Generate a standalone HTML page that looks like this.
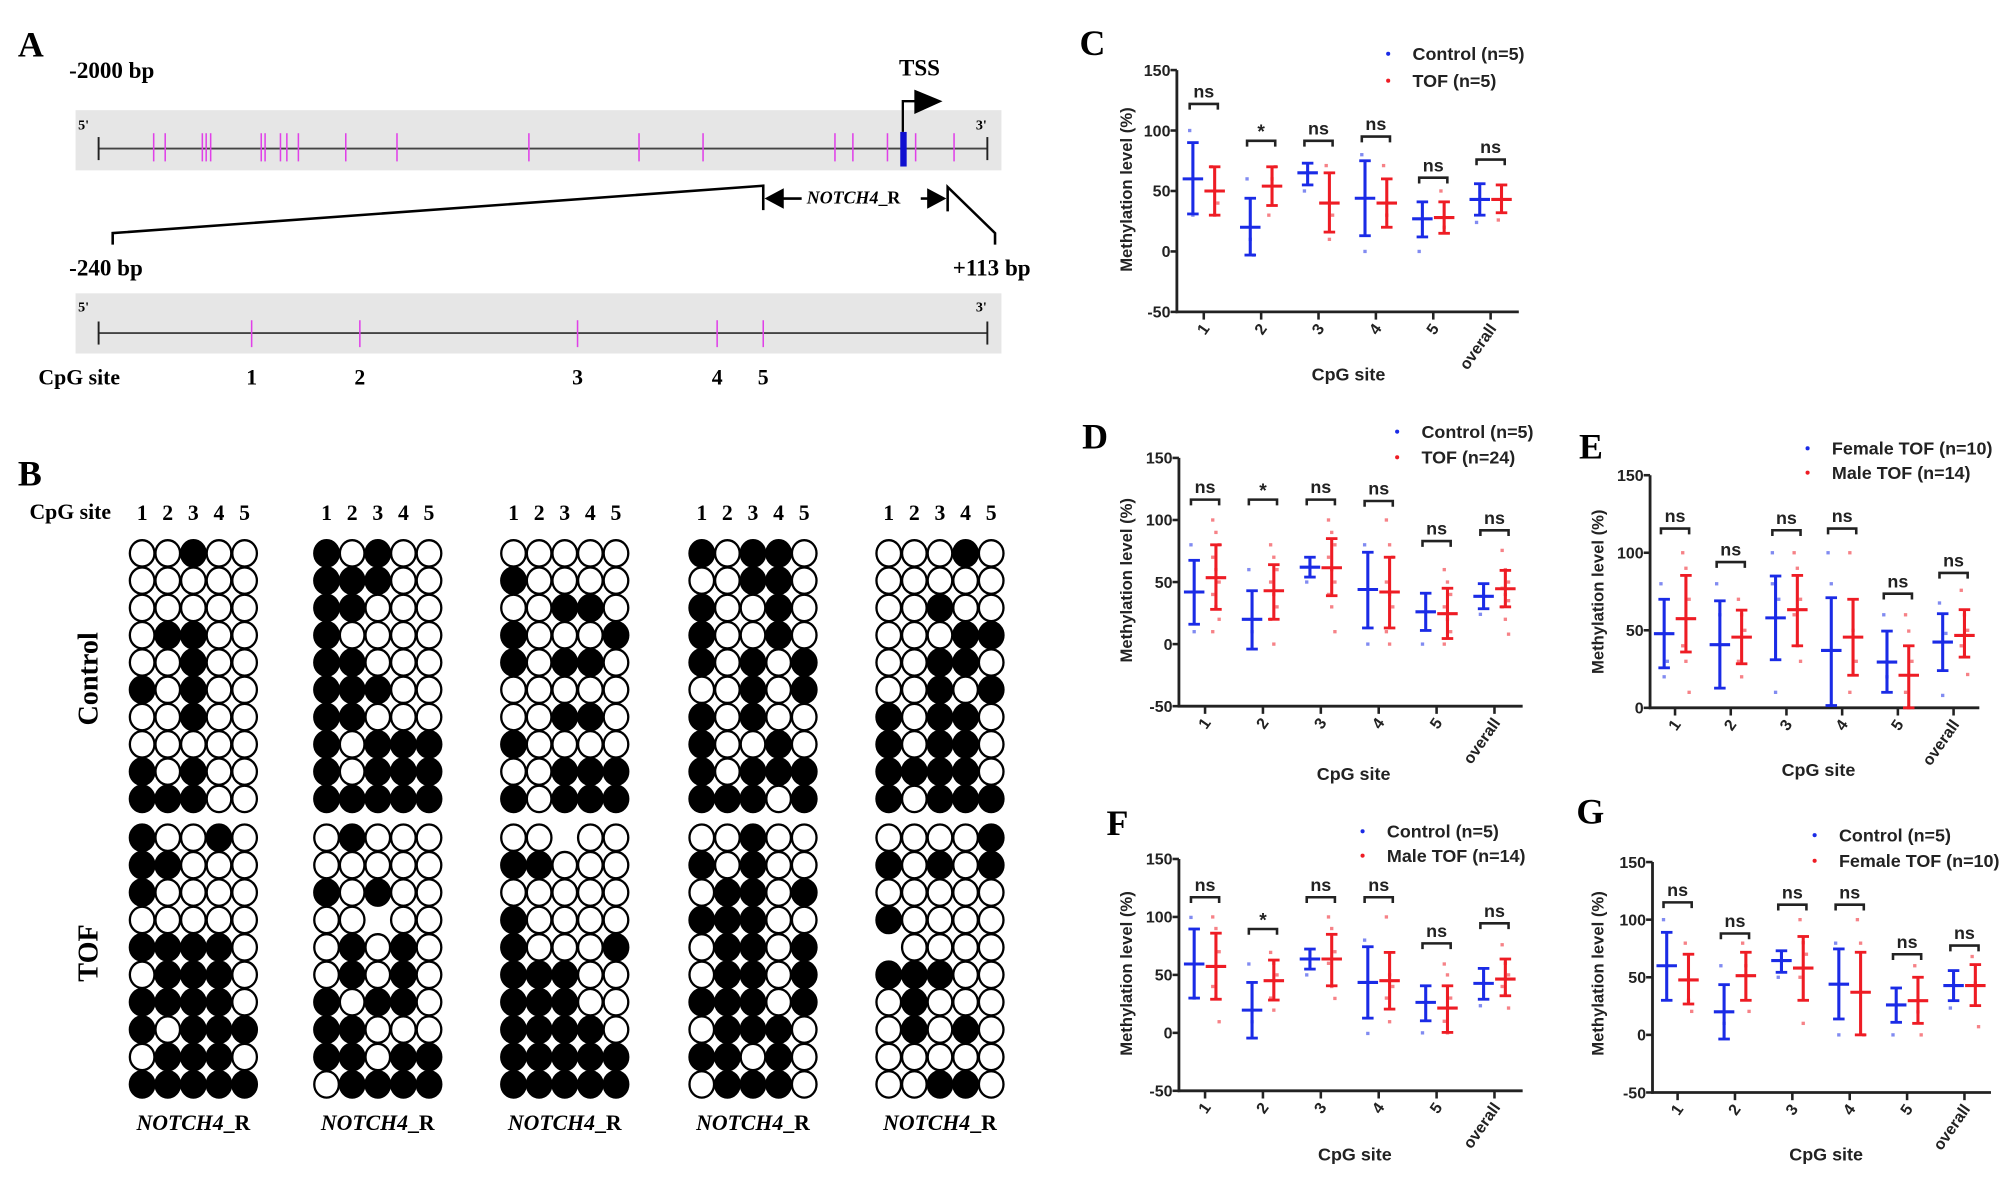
<!DOCTYPE html>
<html><head><meta charset="utf-8"><style>
html,body{margin:0;padding:0;background:#fff;}
svg{display:block;}
.serif{font-family:"Liberation Serif",serif;font-weight:bold;}
.sans{font-family:"Liberation Sans",sans-serif;font-weight:bold;}
</style></head><body>
<svg id="fig" width="2008" height="1181" viewBox="0 0 1568 922" preserveAspectRatio="none" xmlns="http://www.w3.org/2000/svg">
<rect width="1568" height="922" fill="#fff"/>
<!-- Panel A -->
<g id="panelA">
<text class="serif" x="14" y="44" font-size="28">A</text>
<text class="serif" x="54" y="61" font-size="18">-2000 bp</text>
<text class="serif" x="702" y="59" font-size="18">TSS</text>
<rect x="59" y="86" width="723" height="47" fill="#e6e6e6"/>
<text class="serif" x="61" y="101" font-size="11">5'</text>
<text class="serif" x="762" y="101" font-size="11">3'</text>
<line x1="77" y1="116" x2="771" y2="116" stroke="#444" stroke-width="1.5"/>
<line x1="77" y1="107" x2="77" y2="125" stroke="#222" stroke-width="1.5"/>
<line x1="771" y1="107" x2="771" y2="125" stroke="#222" stroke-width="1.5"/>
<g id="cpgTicksTop"></g>
<rect x="703" y="103" width="5" height="27" fill="#1010d0"/>
<polyline points="705,103 705,79 716,79" fill="none" stroke="#000" stroke-width="1.8"/>
<polygon points="714,70 736,79 714,89" fill="#000"/>
<polyline points="88,191 88,182 596,145 596,164" fill="none" stroke="#000" stroke-width="2"/>
<polyline points="740,165 740,146 777,182 777,191" fill="none" stroke="#000" stroke-width="2"/>
<polygon points="597,155 612,147 612,163" fill="#000"/>
<line x1="610" y1="155" x2="626" y2="155" stroke="#000" stroke-width="2"/>
<text class="serif" x="630" y="159" font-size="14" font-style="italic">NOTCH4<tspan font-style="normal">_R</tspan></text>
<line x1="719" y1="155" x2="728" y2="155" stroke="#000" stroke-width="2"/>
<polygon points="739,155 724,147 724,163" fill="#000"/>
<text class="serif" x="54" y="215" font-size="18">-240 bp</text>
<text class="serif" x="744" y="215" font-size="18">+113 bp</text>
<rect x="59" y="229" width="723" height="47" fill="#e6e6e6"/>
<text class="serif" x="61" y="243" font-size="11">5'</text>
<text class="serif" x="762" y="243" font-size="11">3'</text>
<line x1="77" y1="260" x2="771" y2="260" stroke="#444" stroke-width="1.5"/>
<line x1="77" y1="251" x2="77" y2="269" stroke="#222" stroke-width="1.5"/>
<line x1="771" y1="251" x2="771" y2="269" stroke="#222" stroke-width="1.5"/>
<g id="cpgTicksBottom"></g>
<text class="serif" x="30" y="300" font-size="17">CpG site</text>
</g>
<!-- Panel B -->
<g id="panelB">
<text class="serif" x="14" y="379" font-size="28">B</text>
<text class="serif" x="23" y="405" font-size="17">CpG site</text>
<text class="serif" font-size="22" transform="translate(76,530) rotate(-90)" text-anchor="middle">Control</text>
<text class="serif" font-size="22" transform="translate(76,744) rotate(-90)" text-anchor="middle">TOF</text>
<g id="grids"></g>
</g>
<g id="charts"></g>
</svg>
<script>
const NS='http://www.w3.org/2000/svg';
function mk(tag,attrs,parent){const e=document.createElementNS(NS,tag);for(const k in attrs)e.setAttribute(k,attrs[k]);parent.appendChild(e);return e;}
const fig=document.getElementById('fig');

// Panel A CpG positions
const topCpgX=[120,129,158,161,164.5,204,207,219,224,233,270,310,413,499,549,652,666,693,715,745];
const ampliconCpgX=[196.5,281,451,560,596];
const ampliconCpgLabels=['1','2','3','4','5'];
const tt=document.getElementById('cpgTicksTop');
topCpgX.forEach(x=>{const l=mk('line',{x1:x,y1:104,x2:x,y2:126,stroke:'#e040e8','stroke-width':1.2},tt);

});
const tb=document.getElementById('cpgTicksBottom');
ampliconCpgX.forEach((x,i)=>{const l=mk('line',{x1:x,y1:250,x2:x,y2:271,stroke:'#e040e8','stroke-width':1.2},tb);


const t=mk('text',{x:x,y:300,'font-size':17,'text-anchor':'middle','class':'serif'},tb);t.textContent=ampliconCpgLabels[i];

});

// Panel B patterns (1 = methylated, 0 = unmethylated, - = missing)
const ctrlPatterns=[
['00100','00000','00000','01100','00100','10100','00100','00000','10100','11100'],
['10100','11100','11000','10000','11000','11100','11000','10111','10111','11111'],
['00000','10000','00110','10001','10110','00000','00110','10000','00111','10111'],
['10110','00110','10010','10010','10101','00101','10100','10010','10111','11101'],
['00010','00000','00100','00011','00110','00101','10110','10110','11110','10111']];
const tofPatterns=[
['10010','11000','10000','00000','11110','01110','11110','10111','01110','11111'],
['01000','00000','10100','00-00','01010','01010','10110','11000','11011','01111'],
['00-00','11000','00000','10000','10001','11100','11100','11110','11111','11111'],
['00100','10100','01101','11100','01101','01101','11101','01110','11010','01110'],
['00001','10101','00000','10000','-0000','11100','01000','01010','00000','00110']];
const groupX=[111,255,401,548,694];
const grids=document.getElementById('grids');
groupX.forEach((gx,g)=>{
 for(let c=0;c<5;c++){const t=mk('text',{x:gx+c*20,y:406,'font-size':17,'text-anchor':'middle','class':'serif'},grids);t.textContent=String(c+1);
 
 }
 const lab=mk('text',{x:gx+40,y:882,'font-size':17,'text-anchor':'middle','class':'serif','font-style':'italic'},grids);
 lab.innerHTML='NOTCH4<tspan font-style="normal">_R</tspan>';
 
 
 [[ctrlPatterns,432,21.3],[tofPatterns,654,21.4]].forEach(([pats,y0,dy])=>{
  pats[g].forEach((row,r)=>{for(let c=0;c<5;c++){const v=row[c];if(v==='-')continue;
   const e=mk('ellipse',{cx:gx+c*20,cy:y0+r*dy,rx:9.6,ry:10.3,fill:v==='1'?'#000':'#fff',stroke:'#000','stroke-width':1.8},grids);
   
   }});
 });
});

// ===== Chart data =====
const categories=['1','2','3','4','5','overall'];
const yTicksFull=[150,100,50,0,-50];
const yTicksE=[150,100,50,0];

// C: Control vs TOF (n=5)
const C_blueMean=[60,20,65,44,27,43];
const C_blueHigh=[90,44,73,75,41,56];
const C_blueLow=[31,-3,55,13,12,30];
const C_redMean=[50,54,40,40,28,43];
const C_redHigh=[70,70,65,60,41,55];
const C_redLow=[30,38,16,20,15,32];
const C_bluePts=[[100,30],[60,10,-3],[50],[80,0],[0],[24]];
const C_redPts=[[70,30,40],[30,60,70],[71,10,30],[71,30],[50,20],[26]];
const C_sig=['ns','*','ns','ns','ns','ns'];
const C_bracket=[122,91.5,91.5,95,61,76];

// D: Control (n=5) vs TOF (n=24)
const D_blueMean=[42,20,62,44,26,38.5];
const D_blueHigh=[67.5,43,70,74,41,48.7];
const D_blueLow=[16,-4,54,13,11,28.5];
const D_redMean=[53.5,43,61.5,42,24.5,44.6];
const D_redHigh=[80,64,85,70,45,59.4];
const D_redLow=[28,20,39,13,4.5,30];
const D_bluePts=[[80,10],[60,10],[50],[80,0],[0],[24]];
const D_redPts=[[100,90,80,70,60,50,40,30,20,10],[80,70,60,50,40,30,20,0],[100,90,80,70,60,50,40,30,10],[100,80,70,50,40,30,10,0],[60,50,40,30,20,10,0],[75.5,60,50,45,40,35,30,20,8]];
const D_sig=['ns','*','ns','ns','ns','ns'];
const D_bracket=[116.4,116.4,116.4,115.3,83,91.7];

// E: Female TOF (n=10) vs Male TOF (n=14)
const E_blueMean=[47.8,40.7,58,37,29.5,42.4];
const E_blueHigh=[70,69,85,71,49.5,60.7];
const E_blueLow=[25.8,12.7,31,1.5,10,24];
const E_redMean=[57.5,45.6,63.3,45.6,21,46.7];
const E_redHigh=[85.4,63,85.4,70,40,63.3];
const E_redLow=[36,28.4,40,21,0,32.7];
const E_bluePts=[[80,20,30],[80,60],[100,10,70,80],[100,80],[60,20],[67.6,8,48]];
const E_redPts=[[100,90,70,40,30,10],[70,60,50,30,20],[100,90,70,60,40,30],[100,50,30,10],[60,49.5,30,10,0],[75.8,60,50,40,33,21.5]];
const E_sig=['ns','ns','ns','ns','ns','ns'];
const E_bracket=[115.6,94,114.5,115.6,73.6,87];

// F: Control (n=5) vs Male TOF (n=14)
const F_blueMean=[59.4,19.6,63.7,43.5,26.3,42.7];
const F_blueHigh=[89.6,43.5,72.3,74.3,40.6,55.6];
const F_blueLow=[30,-4.5,55,12.7,10.4,29];
const F_redMean=[57.3,45,63.7,45,21.4,46.4];
const F_redHigh=[86,62.8,85,69.4,40.6,63.7];
const F_redLow=[29,28.3,40.6,20.5,0.4,32];
const F_bluePts=[[99.6,30],[59.4,9.6],[50],[80,-0.5],[0],[23.4]];
const F_redPts=[[100,90,70,40,30,9.6],[69.4,60,50,30,19.6],[100,90,70,60,40,29.7],[100,50,40,30,9.6],[59.4,50,30,10,0],[76,60,50,40,33,21.4]];
const F_sig=['ns','*','ns','ns','ns','ns'];
const F_bracket=[117,89.6,117,117,77.2,94.5];

// G: Control (n=5) vs Female TOF (n=10)
const G_blueMean=[60,20,64.5,44,26,42.8];
const G_blueHigh=[89,43.6,73,74.6,40.7,55.8];
const G_blueLow=[30,-3.6,54.3,13.8,10.9,29.7];
const G_redMean=[47.7,51.4,58,37,29.7,42.8];
const G_redHigh=[70,71.7,85.4,71.7,50,61];
const G_redLow=[26.8,30,30,0,10,25.4];
const G_bluePts=[[100],[60,10],[50],[79.6,0],[0],[23.3]];
const G_redPts=[[79.6,30,20.4],[79.6,60,20.4],[100,80,70,50,10],[100,79.6,0],[60,20,0],[68,45,7.1]];
const G_sig=['ns','ns','ns','ns','ns','ns'];
const G_bracket=[115,88,113,113,70,77.5];

const BLUE='#1a2be6', RED='#ee1c24';

function drawChart(cfg){
 const g=mk('g',{},document.getElementById('charts'));
 
 
 const vmax=150, vmin=cfg.ticks[cfg.ticks.length-1];
 const y=v=>cfg.yTop+(vmax-v)/(vmax-vmin)*(cfg.yBot-cfg.yTop);
 const x=i=>cfg.cat0+i*cfg.step;
 const txt=(s,a,name)=>{const t=mk('text',a,g);t.textContent=s;return t;};
 txt(cfg.letter,{x:cfg.letterX,y:cfg.letterY,'font-size':28,'class':'serif'},'panel-label');
 // axes
 const ya=mk('line',{x1:cfg.x0,y1:cfg.yTop,x2:cfg.x0,y2:cfg.yBot+1,stroke:'#222','stroke-width':2.2},g);
 
 
 const xa=mk('line',{x1:cfg.x0-1,y1:cfg.yBot,x2:cfg.xEnd,y2:cfg.yBot,stroke:'#222','stroke-width':2.2},g);
 
 
 cfg.ticks.forEach(v=>{mk('line',{x1:cfg.x0-5,y1:y(v),x2:cfg.x0,y2:y(v),stroke:'#222','stroke-width':2},g);
  txt(String(v),{x:cfg.x0-5,y:y(v)+4.5,'font-size':12.5,'text-anchor':'end','class':'sans',fill:'#222'},'y-tick-label');});
 categories.forEach((c,i)=>{mk('line',{x1:x(i),y1:cfg.yBot,x2:x(i),y2:cfg.yBot+6,stroke:'#222','stroke-width':2},g);
  txt(c,{'font-size':12.5,'text-anchor':'end','class':'sans',fill:'#222',transform:`translate(${x(i)+5},${cfg.yBot+13}) rotate(-55)`},'x-tick-label');});
 txt('Methylation level (%)',{'font-size':13,'text-anchor':'middle','class':'sans',fill:'#222',transform:`translate(${cfg.yTitleX},${cfg.yTitleY}) rotate(-90)`},'y-axis-title');
 txt('CpG site',{x:cfg.xTitleX,y:cfg.xTitleY,'font-size':14,'text-anchor':'middle','class':'sans',fill:'#222'},'x-axis-title');
 // legend
 [[BLUE,cfg.leg[0],0],[RED,cfg.leg[1],1]].forEach(([col,label,k])=>{
  const ly=cfg.legY+k*cfg.legDy;
  const d=mk('circle',{cx:cfg.legX,cy:ly-5,r:1.6,fill:col},g);
  
  
  txt(label,{x:cfg.legX+19,y:ly,'font-size':14,'class':'sans',fill:'#222'},'legend-entry');
 });
 // series
 const series=[[cfg.bm,cfg.bh,cfg.bl,cfg.bp,BLUE,-8.5],[cfg.rm,cfg.rh,cfg.rl,cfg.rp,RED,8.5]];
 series.forEach(([m,h,l,p,col,off])=>{
  categories.forEach((c,i)=>{
   const cx=x(i)+off;
   p[i].forEach((v,j)=>{const jx=cx+((j%3)-1)*2.5;
    const pt=mk('rect',{x:jx-1.3,y:y(v)-1.3,width:2.6,height:2.6,fill:col,opacity:0.55},g);
    
    });
   const eb=mk('line',{x1:cx,y1:y(h[i]),x2:cx,y2:y(l[i]),stroke:col,'stroke-width':2.4},g);
   
   
   mk('line',{x1:cx-4.5,y1:y(h[i]),x2:cx+4.5,y2:y(h[i]),stroke:col,'stroke-width':2.2},g);
   mk('line',{x1:cx-4.5,y1:y(l[i]),x2:cx+4.5,y2:y(l[i]),stroke:col,'stroke-width':2.2},g);
   const mn=mk('line',{x1:cx-8,y1:y(m[i]),x2:cx+8,y2:y(m[i]),stroke:col,'stroke-width':2.4},g);
   
   
  });
 });
 // significance brackets
 categories.forEach((c,i)=>{
  const by=y(cfg.br[i]);
  const b=mk('polyline',{points:`${x(i)-11},${by+4.5} ${x(i)-11},${by} ${x(i)+11},${by} ${x(i)+11},${by+4.5}`,fill:'none',stroke:'#222','stroke-width':2},g);
  
  
  txt(cfg.sig[i],{x:x(i),y:by-(cfg.sig[i]==='*'?2:5),'font-size':cfg.sig[i]==='*'?15:14,'text-anchor':'middle','class':'sans',fill:'#222'},'significance-label');
 });
}

drawChart({id:'c',letter:'C',letterX:843,letterY:43,x0:919,yTop:54.7,yBot:243.5,cat0:940,step:44.8,xEnd:1186,ticks:yTicksFull,
 yTitleX:884,yTitleY:148,xTitleX:1053,xTitleY:297,legX:1084,legY:47,legDy:21,leg:['Control (n=5)','TOF (n=5)'],
 bm:C_blueMean,bh:C_blueHigh,bl:C_blueLow,rm:C_redMean,rh:C_redHigh,rl:C_redLow,bp:C_bluePts,rp:C_redPts,sig:C_sig,br:C_bracket});
drawChart({id:'d',letter:'D',letterX:845,letterY:350,x0:920.6,yTop:357.5,yBot:551.3,cat0:941,step:45.2,xEnd:1189,ticks:yTicksFull,
 yTitleX:884,yTitleY:453,xTitleX:1057,xTitleY:609,legX:1091,legY:342,legDy:20,leg:['Control (n=5)','TOF (n=24)'],
 bm:D_blueMean,bh:D_blueHigh,bl:D_blueLow,rm:D_redMean,rh:D_redHigh,rl:D_redLow,bp:D_bluePts,rp:D_redPts,sig:D_sig,br:D_bracket});
drawChart({id:'e',letter:'E',letterX:1233,letterY:358,x0:1288.5,yTop:371,yBot:552.6,cat0:1308,step:43.5,xEnd:1545.6,ticks:yTicksE,
 yTitleX:1252,yTitleY:462,xTitleX:1420,xTitleY:606,legX:1411.5,legY:355,legDy:19,leg:['Female TOF (n=10)','Male TOF (n=14)'],
 bm:E_blueMean,bh:E_blueHigh,bl:E_blueLow,rm:E_redMean,rh:E_redHigh,rl:E_redLow,bp:E_bluePts,rp:E_redPts,sig:E_sig,br:E_bracket});
drawChart({id:'f',letter:'F',letterX:864,letterY:652,x0:920.6,yTop:670.6,yBot:851.6,cat0:941,step:45.2,xEnd:1189,ticks:yTicksFull,
 yTitleX:884,yTitleY:760,xTitleX:1058,xTitleY:906,legX:1064,legY:654,legDy:19,leg:['Control (n=5)','Male TOF (n=14)'],
 bm:F_blueMean,bh:F_blueHigh,bl:F_blueLow,rm:F_redMean,rh:F_redHigh,rl:F_redLow,bp:F_bluePts,rp:F_redPts,sig:F_sig,br:F_bracket});
drawChart({id:'g',letter:'G',letterX:1231,letterY:643,x0:1290.4,yTop:673,yBot:852.9,cat0:1310,step:44.8,xEnd:1554.7,ticks:yTicksFull,
 yTitleX:1252,yTitleY:760,xTitleX:1426,xTitleY:906,legX:1417,legY:657,legDy:20,leg:['Control (n=5)','Female TOF (n=10)'],
 bm:G_blueMean,bh:G_blueHigh,bl:G_blueLow,rm:G_redMean,rh:G_redHigh,rl:G_redLow,bp:G_bluePts,rp:G_redPts,sig:G_sig,br:G_bracket});
</script>
</body></html>
